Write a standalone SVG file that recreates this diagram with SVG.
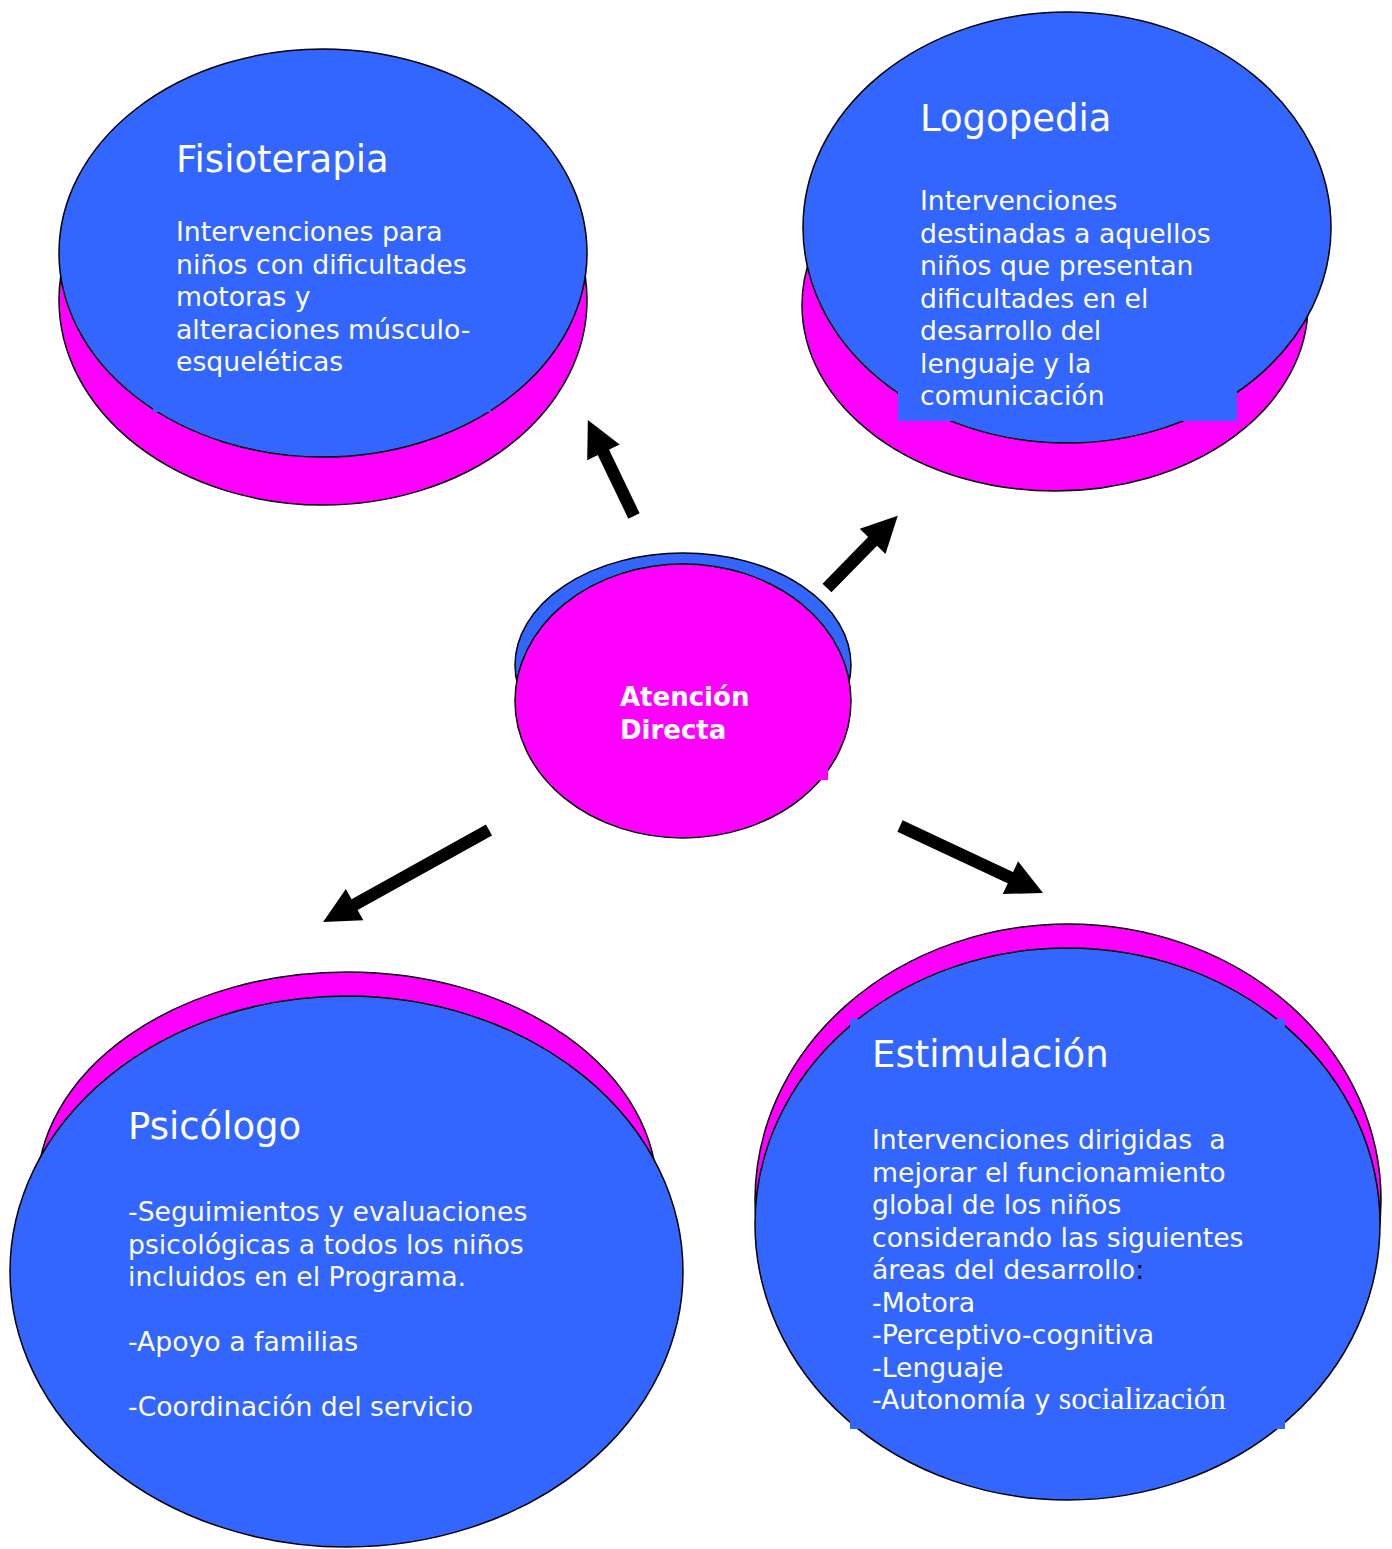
<svg xmlns="http://www.w3.org/2000/svg" width="1392" height="1549" viewBox="0 0 1392 1549">
<style>
.b{fill:#3366FF;stroke:#000;stroke-width:1.5}
.m{fill:#FF00FF;stroke:#000;stroke-width:1.5}
.rb{fill:#3366FF}
.rm{fill:#FF00FF}
.t{font-family:"DejaVu Sans","Verdana",sans-serif;fill:#fff}
.h{font-size:37px}
.x{font-size:26.7px}
.c{stroke:#000;stroke-width:12.5;fill:none;marker-end:url(#ah)}
</style>
<defs>
<marker id="ah" markerUnits="userSpaceOnUse" markerWidth="38" markerHeight="40" refX="0" refY="18" orient="auto" overflow="visible">
<path d="M-1,0 L35,18 L-1,36 z" fill="#000"/>
</marker>
</defs>
<rect width="1392" height="1549" fill="#fff"/>

<g id="fisioterapia">
<ellipse class="m" cx="323" cy="300" rx="264" ry="205"/>
<ellipse class="b" cx="323" cy="253" rx="264" ry="204"/>
<rect class="rb" x="153" y="130" width="338" height="282"/>
<text class="t h" x="176" y="172">Fisioterapia</text>
<text class="t x"><tspan x="176" y="241">Intervenciones para</tspan><tspan x="176" y="273.5">niños con dificultades</tspan><tspan x="176" y="306">motoras y</tspan><tspan x="176" y="338.5">alteraciones músculo-</tspan><tspan x="176" y="371">esqueléticas</tspan></text>
</g>

<g id="logopedia">
<ellipse class="m" cx="1055" cy="305" rx="253" ry="186"/>
<ellipse class="b" cx="1067" cy="227.5" rx="264" ry="215.5"/>
<rect class="rb" x="898" y="90" width="339" height="331"/>
<text class="t h" x="920" y="131">Logopedia</text>
<text class="t x"><tspan x="920" y="210">Intervenciones</tspan><tspan x="920" y="242.5">destinadas a aquellos</tspan><tspan x="920" y="275">niños que presentan</tspan><tspan x="920" y="307.5">dificultades en el</tspan><tspan x="920" y="340">desarrollo del</tspan><tspan x="920" y="372.5">lenguaje y la</tspan><tspan x="920" y="405">comunicación</tspan></text>
</g>

<g id="atencion-directa">
<ellipse class="b" cx="683" cy="665" rx="168" ry="112"/>
<ellipse class="m" cx="683" cy="701" rx="168" ry="137"/>
<rect class="rm" x="610" y="670" width="218" height="110"/>
<text class="t" style="font-size:26px;font-weight:bold"><tspan x="620" y="706">Atención</tspan><tspan x="620" y="739">Directa</tspan></text>
</g>

<g id="psicologo">
<ellipse class="m" cx="347" cy="1191" rx="310" ry="219"/>
<ellipse class="b" cx="346.5" cy="1271.5" rx="336.5" ry="275.5"/>
<text class="t h" x="128" y="1139">Psicólogo</text>
<text class="t x"><tspan x="128" y="1221">-Seguimientos y evaluaciones</tspan><tspan x="128" y="1253.5">psicológicas a todos los niños</tspan><tspan x="128" y="1286">incluidos en el Programa.</tspan><tspan x="128" y="1351">-Apoyo a familias</tspan><tspan x="128" y="1416">-Coordinación del servicio</tspan></text>
</g>

<g id="estimulacion">
<ellipse class="m" cx="1068" cy="1200" rx="313" ry="276"/>
<ellipse class="b" cx="1067.5" cy="1224" rx="312.5" ry="276"/>
<rect class="rb" x="850" y="1019" width="435" height="410"/>
<text class="t h" x="872" y="1067">Estimulación</text>
<text class="t x" style="white-space:pre"><tspan x="872" y="1149">Intervenciones dirigidas  a</tspan><tspan x="872" y="1181.5">mejorar el funcionamiento</tspan><tspan x="872" y="1214">global de los niños</tspan><tspan x="872" y="1246.5">considerando las siguientes</tspan><tspan x="872" y="1279">áreas del desarrollo<tspan fill="#000">:</tspan></tspan><tspan x="872" y="1311.5">-Motora</tspan><tspan x="872" y="1344">-Perceptivo-cognitiva</tspan><tspan x="872" y="1376.5">-Lenguaje</tspan><tspan x="872" y="1409">-Autonomía y <tspan style="font-family:'Liberation Serif','Times New Roman',serif;font-size:32px">socialización</tspan></tspan></text>
</g>

<g id="connectors">
<line class="c" x1="634" y1="516" x2="603" y2="451.5"/>
<line class="c" x1="827" y1="588" x2="873.3" y2="540.7"/>
<line class="c" x1="489" y1="830" x2="353.7" y2="905.1"/>
<line class="c" x1="900" y1="826" x2="1011.3" y2="878.1"/>
</g>
</svg>
